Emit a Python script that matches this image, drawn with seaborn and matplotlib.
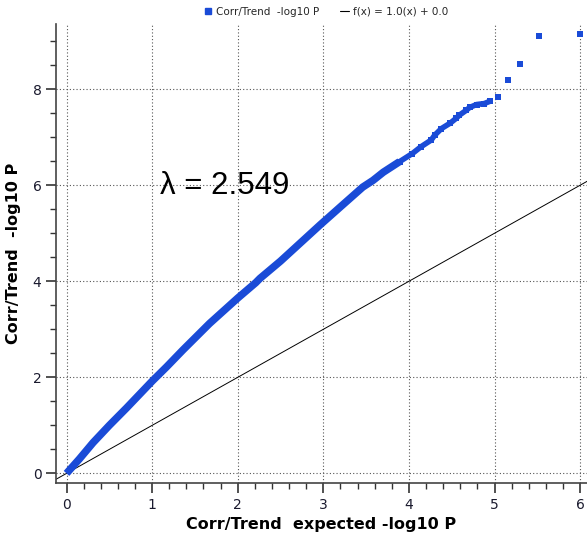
import matplotlib
matplotlib.use("Agg")
import matplotlib.pyplot as plt
from matplotlib.lines import Line2D
from matplotlib.ticker import MultipleLocator
import pandas as pd
import seaborn as sns

expected = [0.0, 0.15, 0.31, 0.5, 0.7, 1.0, 1.17, 1.36, 1.67, 2.0, 2.21, 2.26,
            2.5, 2.96, 3.2, 3.46, 3.58, 3.70, 3.89]
observed = [0.0, 0.3, 0.64, 1.0, 1.36, 1.92, 2.22, 2.57, 3.12, 3.65, 3.97, 4.06,
            4.42, 5.17, 5.55, 5.96, 6.1, 6.27, 6.49]

tail_expected = [3.89, 4.04, 4.14, 4.26, 4.30, 4.38, 4.48, 4.55, 4.59, 4.67, 4.71,
                 4.79, 4.88, 4.95, 5.04, 5.16, 5.30, 5.52, 6.0]
tail_observed = [6.49, 6.66, 6.80, 6.94, 7.04, 7.18, 7.29, 7.39, 7.46, 7.56, 7.62,
                 7.68, 7.70, 7.75, 7.83, 8.19, 8.52, 9.1, 9.15]

ref_x = [-0.2, 6.2]
lambda_gc = 2.549

blue = "#1a4bd7"

sns.set_style("white")
plt.rcParams["font.family"] = ["DejaVu Sans"]

dense = pd.DataFrame({"exp": expected, "obs": observed})
tail = pd.DataFrame({"exp": tail_expected, "obs": tail_observed})

fig = plt.figure(figsize=(5.87, 5.39), dpi=100)
ax = fig.add_axes([0.0954, 0.1039, 0.9046, 0.851])

ax.plot(ref_x, ref_x, color="black", lw=0.7, zorder=2)
sns.lineplot(data=dense, x="exp", y="obs", color=blue, lw=5.4,
             solid_capstyle="butt", sort=False, ax=ax, zorder=3)
sns.lineplot(data=tail[tail["exp"] <= 5.0], x="exp", y="obs", color=blue, lw=4,
             sort=False, ax=ax, zorder=3)
sns.scatterplot(data=tail, x="exp", y="obs", color=blue, marker="s", s=22,
                linewidth=0, ax=ax, zorder=4)

ax.set_xlim(-0.123, 6.08)
ax.set_ylim(-0.2, 9.35)
ax.xaxis.set_major_locator(MultipleLocator(1))
ax.xaxis.set_minor_locator(MultipleLocator(0.2))
ax.yaxis.set_major_locator(MultipleLocator(2))
ax.yaxis.set_minor_locator(MultipleLocator(0.5))
ax.tick_params(which="major", direction="out", length=7, width=1.2,
               color="#333333", labelsize=10, labelcolor="#1a1a2e")
ax.tick_params(which="minor", direction="out", length=4, width=1, color="#333333")
ax.tick_params(axis="both", which="both", bottom=True, left=True)
ax.grid(True, which="major", color="#555555", lw=0.8, linestyle=(0, (1, 2)))

for side in ["top", "right"]:
    ax.spines[side].set_visible(False)
for side in ["left", "bottom"]:
    ax.spines[side].set_color("#444444")
    ax.spines[side].set_linewidth(1.2)

ax.set_xlabel("Corr/Trend  expected -log10 P", fontsize=11.5, fontweight="bold",
              labelpad=4, color="black")
ax.set_ylabel("Corr/Trend  -log10 P", fontsize=11.5, fontweight="bold",
              labelpad=8, color="black")

ax.text(1.09, 5.98, "λ = " + str(lambda_gc), fontsize=22.5, va="center", ha="left",
        color="black", family=["Liberation Sans", "DejaVu Sans"])

handles = [Line2D([], [], color=blue, marker="s", ls="none", markersize=5),
           Line2D([], [], color="black", lw=0.8)]
fig.legend(handles, ["Corr/Trend  -log10 P", "f(x) = 1.0(x) + 0.0"], loc="upper center",
           bbox_to_anchor=(0.555, 1.005), ncol=2, frameon=False, fontsize=7.5,
           handlelength=0.8, handletextpad=0.4, columnspacing=2)

fig.savefig("out.png", dpi=100)
